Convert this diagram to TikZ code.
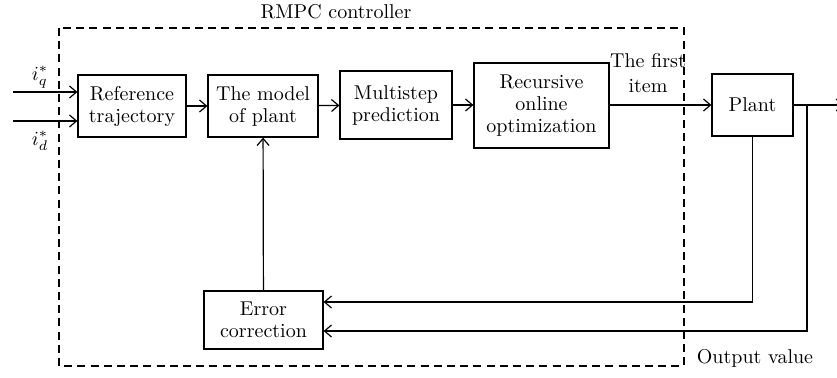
\documentclass[tikz,border=0pt]{standalone}
\usetikzlibrary{arrows.meta}
\begin{document}
\begin{tikzpicture}[x=0.5pt,y=-0.5pt,
    blk/.style={draw, line width=0.6pt, align=center, inner sep=0pt,
      font=\fontsize{10}{11}\selectfont},
    flow/.style={line width=0.6pt, -{Straight Barb[length=3.5pt,width=6pt]}},
    wire/.style={line width=0.6pt},
    lbl/.style={align=center, inner sep=0pt, font=\fontsize{10}{12.5}\selectfont}]
\useasboundingbox (0,0) rectangle (837,377);
% controller frame
\draw[line width=0.6pt, dash pattern=on 4pt off 2.6pt] (59,28) rectangle (684,366);
\node[lbl] (ctrl) at (336,12) {RMPC controller};
% blocks
\node[blk, minimum width=54pt, minimum height=31pt] (ref) at (132,106) {Reference\\trajectory};
\node[blk, minimum width=55pt, minimum height=31pt] (model) at (263,106) {The model\\of plant};
\node[blk, minimum width=56pt, minimum height=34pt] (multi) at (396,105) {Multistep\\prediction};
\node[blk, minimum width=67.5pt, minimum height=42.5pt] (rec) at (541.5,105.5) {Recursive\\online\\optimization};
\node[blk, minimum width=40.5pt, minimum height=31pt] (plant) at (752.5,105) {Plant};
\node[blk, minimum width=59.5pt, minimum height=29pt] (err) at (263.5,320) {Error\\correction};
% inputs
\coordinate (iq) at (13,92);
\coordinate (id) at (13,121);
\node[lbl] (iqlbl) at (40,77) {$i_q^*$};
\node[lbl] (idlbl) at (40,141) {$i_d^*$};
\draw[flow] (iq) -- (ref.west |- iq);
\draw[flow] (id) -- (ref.west |- id);
% forward path
\draw[flow] (ref) -- (model);
\draw[flow] (model) -- (multi);
\draw[flow] (multi) -- (rec.west |- multi);
\draw[flow] (rec.east |- plant) -- (plant);
\node[lbl] (first) at (648,73) {The first\\item};
% output and feedback
\coordinate (out) at (844,105);
\coordinate (br) at (807,105);
\coordinate (fb1) at (0,302);
\coordinate (fb2) at (0,331);
\draw[flow] (plant) -- (out);
\draw[flow] (plant.south) -- (plant.south |- fb1) -- (err.east |- fb1);
\draw[flow] (br) -- (br |- fb2) -- (err.east |- fb2);
\draw[flow] (err) -- (model);
\node[lbl] (outlbl) at (755,358) {Output value};
\end{tikzpicture}
\end{document}
